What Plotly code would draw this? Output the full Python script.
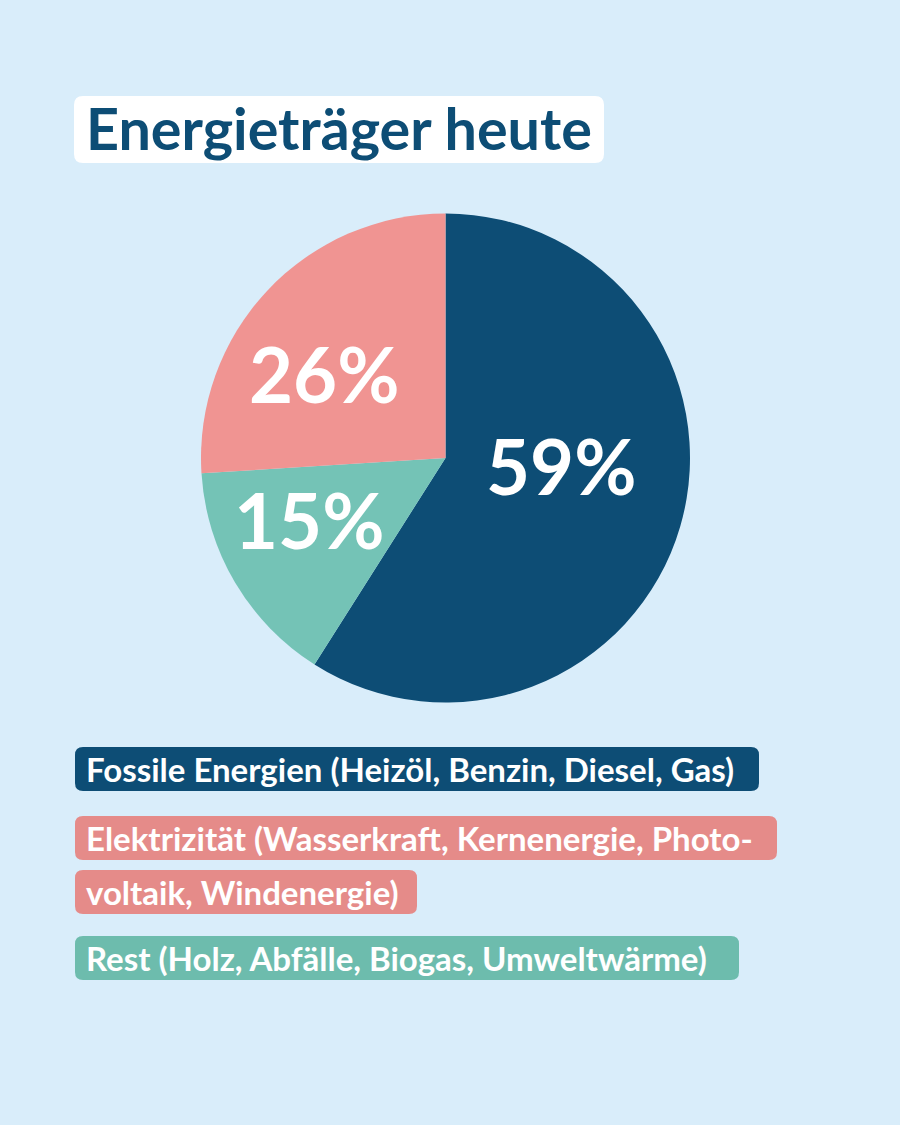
import plotly.graph_objects as go

categories = ["Fossile Energien", "Rest", "Elektrizität"]
values = [59, 15, 26]
value_labels = ["59%", "15%", "26%"]
colors = ["#0d4d75", "#74c3b6", "#f09492"]

title_text = "Energieträger heute"
legend_lines = [
    "Fossile Energien (Heizöl, Benzin, Diesel, Gas)",
    "Elektrizität (Wasserkraft, Kernenergie, Photo-",
    "voltaik, Windenergie)",
    "Rest (Holz, Abfälle, Biogas, Umweltwärme)",
]
legend_colors = ["#0d4d75", "#e58b89", "#e58b89", "#6dbcad"]

W, H = 900, 1125
BG = "#d9edfa"
FONT = "Lato"

fig = go.Figure()
fig.add_trace(go.Pie(
    labels=categories,
    values=values,
    sort=False,
    direction="clockwise",
    rotation=0,
    marker=dict(colors=colors, line=dict(width=0)),
    textinfo="none",
    hoverinfo="label+percent",
    showlegend=False,
    domain=dict(x=[201 / W, 690 / W], y=[1 - 703 / H, 1 - 213 / H]),
))


def px(x):
    return x / W


def py(y):
    return 1 - y / H


def rounded_rect(x0, y0, x1, y1, r):
    X0, X1 = px(x0), px(x1)
    Y0, Y1 = py(y0), py(y1)
    rx, ry = r / W, r / H
    return (f"M {X0+rx},{Y0} L {X1-rx},{Y0} Q {X1},{Y0} {X1},{Y0-ry} "
            f"L {X1},{Y1+ry} Q {X1},{Y1} {X1-rx},{Y1} L {X0+rx},{Y1} "
            f"Q {X0},{Y1} {X0},{Y1+ry} L {X0},{Y0-ry} Q {X0},{Y0} {X0+rx},{Y0} Z")


shapes = []
annotations = []

# title box
shapes.append(dict(type="path", xref="paper", yref="paper",
                   path=rounded_rect(74, 96, 604, 163, 9),
                   fillcolor="white", line=dict(width=0), layer="below"))
annotations.append(dict(text=f"<b>{title_text}</b>", x=px(84), y=py(128),
                        xref="paper", yref="paper", xanchor="left", yanchor="middle",
                        showarrow=False, font=dict(family=FONT, size=57.5, color="#0d4d75")))

# legend pills
pill_boxes = [(75, 747, 759, 791), (75, 816, 777, 860), (75, 870, 417, 914), (75, 936, 739, 980)]
for (x0, y0, x1, y1), txt, col in zip(pill_boxes, legend_lines, legend_colors):
    shapes.append(dict(type="path", xref="paper", yref="paper",
                       path=rounded_rect(x0, y0, x1, y1, 8),
                       fillcolor=col, line=dict(width=0), layer="below"))
    annotations.append(dict(text=f"<b>{txt}</b>", x=px(84), y=py((y0 + y1) / 2),
                            xref="paper", yref="paper", xanchor="left", yanchor="middle",
                            showarrow=False, font=dict(family=FONT, size=33, color="white")))

# value labels in the pie
label_pos = [(561, 465), (309, 519), (324, 373)]
for (x, y), t in zip(label_pos, value_labels):
    annotations.append(dict(text=f"<b>{t}</b>", x=px(x), y=py(y), xref="paper", yref="paper",
                            xanchor="center", yanchor="middle", showarrow=False,
                            font=dict(family=FONT, size=76, color="white")))

fig.update_layout(
    width=W, height=H,
    margin=dict(l=0, r=0, t=0, b=0),
    paper_bgcolor=BG, plot_bgcolor=BG,
    shapes=shapes, annotations=annotations,
)

fig.write_html(
    "out.html",
    config={"displayModeBar": False},
    post_script="document.body.style.margin='0';document.body.style.overflow='hidden';",
)
